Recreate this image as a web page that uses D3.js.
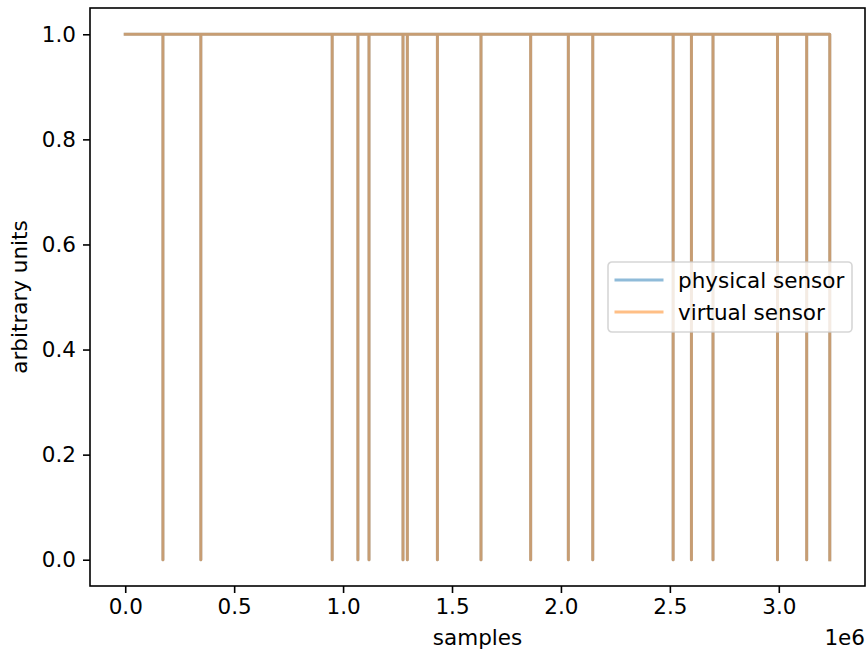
<!DOCTYPE html>
<html>
<head>
<meta charset="utf-8">
<script src="https://cdn.jsdelivr.net/npm/d3@7"></script>
<style>
  html, body { margin: 0; padding: 0; background: #fff; }
  svg { display: block; font-family: "DejaVu Sans", sans-serif; }
</style>
</head>
<body>
<svg id="chart" width="868" height="655"></svg>
<script>
// ---- data ----
// sample index of each point (each drop goes 1 -> 0 -> 1 at the same sample)
const samples = [
  0,
  173000, 173000, 173000,
  347000, 347000, 347000,
  950000, 950000, 950000,
  1068000, 1068000, 1068000,
  1119000, 1119000, 1119000,
  1275000, 1275000, 1275000,
  1295000, 1295000, 1295000,
  1433000, 1433000, 1433000,
  1633000, 1633000, 1633000,
  1861000, 1861000, 1861000,
  2034000, 2034000, 2034000,
  2146000, 2146000, 2146000,
  2515000, 2515000, 2515000,
  2599000, 2599000, 2599000,
  2698000, 2698000, 2698000,
  2994000, 2994000, 2994000,
  3128000, 3128000, 3128000,
  3234000, 3234000
];
const physicalSensor = [
  1,
  1, 0, 1,
  1, 0, 1,
  1, 0, 1,
  1, 0, 1,
  1, 0, 1,
  1, 0, 1,
  1, 0, 1,
  1, 0, 1,
  1, 0, 1,
  1, 0, 1,
  1, 0, 1,
  1, 0, 1,
  1, 0, 1,
  1, 0, 1,
  1, 0, 1,
  1, 0, 1,
  1, 0, 1,
  1, 0
];
const virtualSensor = [
  1,
  1, 0, 1,
  1, 0, 1,
  1, 0, 1,
  1, 0, 1,
  1, 0, 1,
  1, 0, 1,
  1, 0, 1,
  1, 0, 1,
  1, 0, 1,
  1, 0, 1,
  1, 0, 1,
  1, 0, 1,
  1, 0, 1,
  1, 0, 1,
  1, 0, 1,
  1, 0, 1,
  1, 0, 1,
  1, 0
];
const seriesNames = ["physical sensor", "virtual sensor"];
const seriesColors = ["#1f77b4", "#ff7f0e"];
const xTicks = [0, 500000, 1000000, 1500000, 2000000, 2500000, 3000000];
const xTickLabels = ["0.0", "0.5", "1.0", "1.5", "2.0", "2.5", "3.0"];
const yTicks = [0, 0.2, 0.4, 0.6, 0.8, 1.0];
const yTickLabels = ["0.0", "0.2", "0.4", "0.6", "0.8", "1.0"];

// ---- layout ----
const svg = d3.select("#chart");
const L = 90, R = 865, T = 8, B = 586;
const FS = 21.5;

const xMin = d3.min(samples), xMax = d3.max(samples);
const xPad = (xMax - xMin) * 0.05;
const x = d3.scaleLinear().domain([xMin - xPad, xMax + xPad]).range([L, R]);
const y = d3.scaleLinear().domain([-0.05, 1.05]).range([B, T]);

const line = d3.line()
  .x(d => x(d[0]))
  .y(d => y(d[1]));

const series = [physicalSensor, virtualSensor].map(vals => samples.map((s, i) => [s, vals[i]]));

const plot = svg.append("g");
series.forEach((pts, i) => {
  plot.append("path")
    .datum(pts)
    .attr("d", line)
    .attr("fill", "none")
    .attr("stroke", seriesColors[i])
    .attr("stroke-opacity", 0.5)
    .attr("stroke-width", 3)
    .attr("stroke-linejoin", "round")
    .attr("stroke-linecap", "square");
});

// ---- axes ----
const xAxis = d3.axisBottom(x)
  .tickValues(xTicks)
  .tickFormat((d, i) => xTickLabels[i])
  .tickSize(7)
  .tickPadding(6);
const gx = svg.append("g").attr("transform", `translate(0,${B})`).call(xAxis);

const yAxis = d3.axisLeft(y)
  .tickValues(yTicks)
  .tickFormat((d, i) => yTickLabels[i])
  .tickSize(7)
  .tickPadding(7);
const gy = svg.append("g").attr("transform", `translate(${L},0)`).call(yAxis);

[gx, gy].forEach(g => {
  g.select(".domain").remove();
  g.selectAll(".tick line").attr("stroke", "#000").attr("stroke-width", 1.6);
  g.selectAll(".tick text").attr("fill", "#000").attr("font-size", FS)
    .attr("font-family", "DejaVu Sans");
});

// spines
svg.append("rect")
  .attr("x", L).attr("y", T)
  .attr("width", R - L).attr("height", B - T)
  .attr("fill", "none").attr("stroke", "#000").attr("stroke-width", 1.6);

// axis labels
svg.append("text")
  .attr("x", (L + R) / 2).attr("y", 645)
  .attr("text-anchor", "middle").attr("font-size", FS).attr("fill", "#000")
  .text("samples");
svg.append("text")
  .attr("transform", `translate(27,${(T + B) / 2}) rotate(-90)`)
  .attr("text-anchor", "middle").attr("font-size", FS).attr("fill", "#000")
  .text("arbitrary units");
svg.append("text")
  .attr("x", R).attr("y", 645)
  .attr("text-anchor", "end").attr("font-size", FS).attr("fill", "#000")
  .text("1e6");

// ---- legend ----
const lg = svg.append("g").attr("transform", "translate(608,262)");
lg.append("rect")
  .attr("width", 244).attr("height", 70).attr("rx", 4).attr("ry", 4)
  .attr("fill", "#fff").attr("fill-opacity", 0.8)
  .attr("stroke", "#cccccc").attr("stroke-opacity", 0.8).attr("stroke-width", 1.6);
seriesNames.forEach((name, i) => {
  const yy = 18 + i * 32;
  lg.append("line")
    .attr("x1", 8).attr("x2", 54).attr("y1", yy).attr("y2", yy)
    .attr("stroke", seriesColors[i]).attr("stroke-opacity", 0.5)
    .attr("stroke-width", 3).attr("stroke-linecap", "square");
  lg.append("text")
    .attr("x", 70).attr("y", yy).attr("dy", "0.35em")
    .attr("font-size", FS).attr("fill", "#000")
    .text(name);
});
</script>
</body>
</html>
